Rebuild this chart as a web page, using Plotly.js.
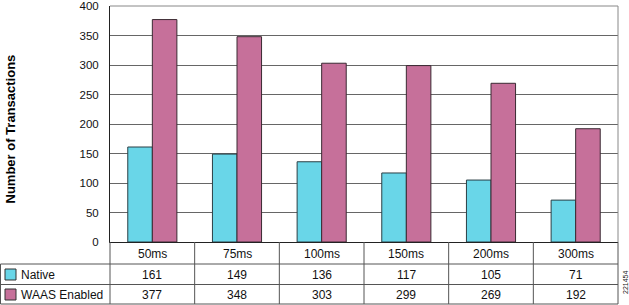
<!DOCTYPE html>
<html>
<head>
<meta charset="utf-8">
<script src="https://cdn.plot.ly/plotly-3.0.1.min.js"></script>
<style>html,body{margin:0;padding:0;background:#fff;}#chart{width:629px;height:305px;}</style>
</head>
<body>
<div id="chart"></div>
<script>
const categories = ['50ms', '75ms', '100ms', '150ms', '200ms', '300ms'];
const nativeValues = [161, 149, 136, 117, 105, 71];
const waasValues = [377, 348, 303, 299, 269, 192];
const seriesNames = ['Native', 'WAAS Enabled'];
const yTicks = [0, 50, 100, 150, 200, 250, 300, 350, 400];
const yTitle = 'Number of Transactions';
const sideNote = '221454';

const W = 629, H = 305;
const L = 110, R = 11, T = 6, B = 63;
const plotH = H - T - B, plotW = W - L - R;
const py = (px) => (H - B - px) / plotH;      // pixel y -> paper y
const pxX = (px) => (px - L) / plotW;          // pixel x -> paper x

const colors = ['#69D6E8', '#C6709A'];
const FONT = 'Liberation Sans, Arial, sans-serif';
const lineCol = '#555';

const traces = [
  {type: 'bar', name: seriesNames[0], x: categories, y: nativeValues,
   marker: {color: colors[0], line: {color: '#2b3f45', width: 1}}, hoverinfo: 'x+y'},
  {type: 'bar', name: seriesNames[1], x: categories, y: waasValues,
   marker: {color: colors[1], line: {color: '#3a2a32', width: 1}}, hoverinfo: 'x+y'}
];

const rowLines = [264, 284.5, 304];
const shapes = [];
rowLines.forEach(y => shapes.push({type: 'line', xref: 'paper', yref: 'paper',
  x0: pxX(0.5), x1: 1, y0: py(y), y1: py(y), line: {color: lineCol, width: 1}}));
shapes.push({type: 'line', xref: 'paper', yref: 'paper', x0: pxX(0.5), x1: pxX(0.5),
  y0: py(264), y1: py(304), line: {color: lineCol, width: 1}});
for (let i = 0; i <= categories.length; i++) {
  shapes.push({type: 'line', xref: 'x domain', yref: 'paper', x0: i / categories.length, x1: i / categories.length,
    y0: 0, y1: py(304), line: {color: lineCol, width: 1}});
}
const rowCenters = [274.5, 294.5];
rowCenters.forEach((c, k) => shapes.push({type: 'rect', xref: 'paper', yref: 'paper',
  x0: pxX(5), x1: pxX(16), y0: py(c - 5.5), y1: py(c + 5.5),
  fillcolor: colors[k], line: {color: '#333', width: 1}}));
shapes.push({type: 'line', xref: 'paper', yref: 'paper', x0: 0, x1: 1, y0: 1, y1: 1, line: {color: '#888', width: 1}});
shapes.push({type: 'line', xref: 'paper', yref: 'paper', x0: 1, x1: 1, y0: 0, y1: 1, line: {color: '#888', width: 1}});

const annotations = [];
const cellFont = {family: FONT, size: 12, color: '#111'};
categories.forEach((c, i) => {
  annotations.push({xref: 'x', yref: 'paper', x: c, y: py(253.5), text: c, showarrow: false,
    xanchor: 'center', yanchor: 'middle', font: cellFont});
  annotations.push({xref: 'x', yref: 'paper', x: c, y: py(rowCenters[0]), text: String(nativeValues[i]), showarrow: false,
    xanchor: 'center', yanchor: 'middle', font: cellFont});
  annotations.push({xref: 'x', yref: 'paper', x: c, y: py(rowCenters[1]), text: String(waasValues[i]), showarrow: false,
    xanchor: 'center', yanchor: 'middle', font: cellFont});
});
seriesNames.forEach((n, k) => annotations.push({xref: 'paper', yref: 'paper', x: pxX(19), y: py(rowCenters[k]),
  text: n, showarrow: false, xanchor: 'left', yanchor: 'middle', font: cellFont}));
annotations.push({xref: 'paper', yref: 'paper', x: pxX(625), y: py(283), text: sideNote, textangle: -90,
  showarrow: false, xanchor: 'center', yanchor: 'middle', font: {family: FONT, size: 7, color: '#222'}});
annotations.push({xref: 'paper', yref: 'paper', x: pxX(9.5), y: py(129), text: yTitle, textangle: -90,
  showarrow: false, xanchor: 'center', yanchor: 'middle', font: {family: FONT, size: 13, color: '#000', weight: 'bold'}});

const layout = {
  width: W, height: H,
  margin: {l: L, r: R, t: T, b: B, pad: 0},
  paper_bgcolor: '#fff', plot_bgcolor: '#fff',
  showlegend: false,
  barmode: 'group', bargap: 0.42, bargroupgap: 0,
  font: {family: FONT, size: 12, color: '#111'},
  xaxis: {type: 'category', range: [-0.5, categories.length - 0.5], showticklabels: false,
    showgrid: false, zeroline: false, showline: true, linecolor: '#222', linewidth: 1, ticks: ''},
  yaxis: {range: [0, 400], tickvals: yTicks, ticktext: yTicks.map(String), showgrid: true, gridcolor: '#666', gridwidth: 1,
    zeroline: false, showline: true, linecolor: '#222', linewidth: 1, ticks: '', ticklabelstandoff: 8,
    ticklabeloverflow: 'allow',
    tickfont: {family: FONT, size: 11.5, color: '#111'}},
  shapes: shapes,
  annotations: annotations
};

Plotly.newPlot('chart', traces, layout, {displayModeBar: false, staticPlot: true});
</script>
</body>
</html>
